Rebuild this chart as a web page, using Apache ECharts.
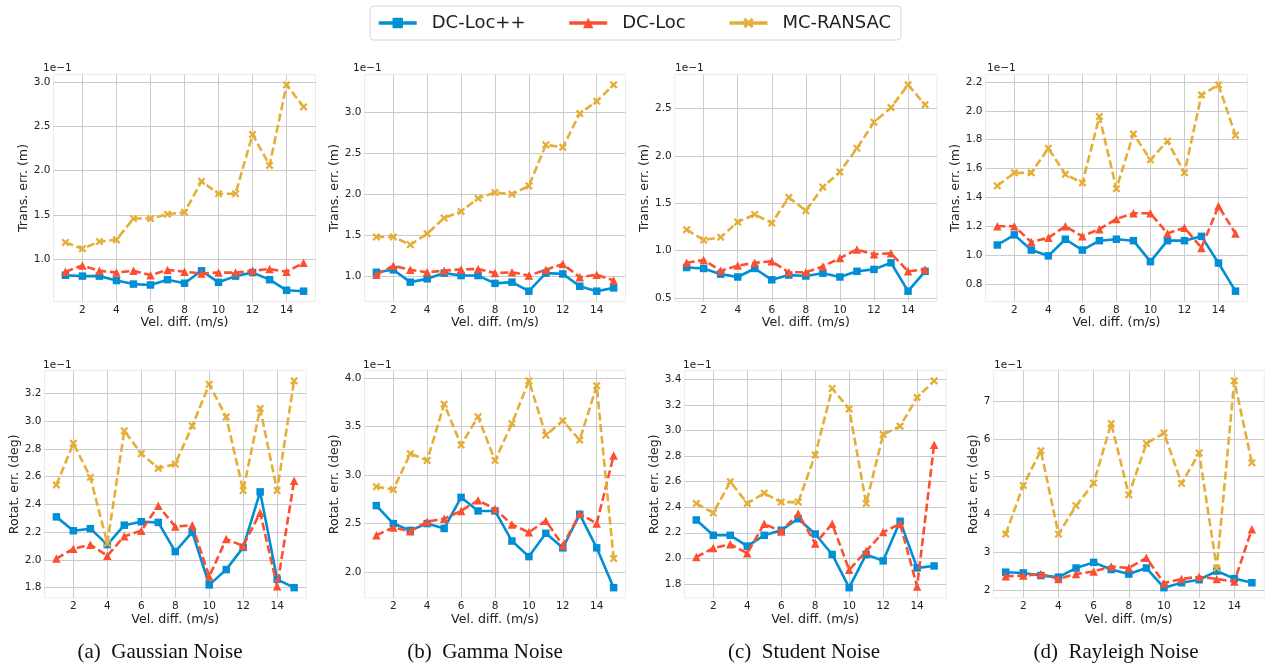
<!DOCTYPE html>
<html>
<head>
<meta charset="utf-8">
<script src="https://cdn.jsdelivr.net/npm/echarts@6/dist/echarts.min.js"></script>
<style>
  html, body { margin: 0; padding: 0; background: #fff; }
  #chart { width: 1266px; height: 664px; }
</style>
</head>
<body>
<div id="chart"></div>
<script>
// x values shared by every panel
const velDiff = [1, 2, 3, 4, 5, 6, 7, 8, 9, 10, 11, 12, 13, 14, 15]
const xTicks = [2, 4, 6, 8, 10, 12, 14]
const seriesNames = ['DC-Loc++', 'DC-Loc', 'MC-RANSAC']

// translation error, x1e-1 m
const transGaussPP = [0.82, 0.81, 0.81, 0.76, 0.72, 0.71, 0.77, 0.73, 0.87, 0.74, 0.81, 0.85, 0.77, 0.65, 0.64]
const transGaussDC = [0.86, 0.93, 0.87, 0.85, 0.87, 0.82, 0.88, 0.86, 0.84, 0.85, 0.85, 0.87, 0.89, 0.86, 0.96]
const transGaussMC = [1.19, 1.12, 1.20, 1.22, 1.46, 1.46, 1.51, 1.53, 1.88, 1.74, 1.74, 2.41, 2.06, 2.97, 2.72]
const transGaussTicks = [1.0, 1.5, 2.0, 2.5, 3.0]

const transGammaPP = [1.05, 1.08, 0.93, 0.97, 1.04, 1.01, 1.01, 0.915, 0.93, 0.82, 1.04, 1.03, 0.88, 0.82, 0.86]
const transGammaDC = [1.02, 1.13, 1.08, 1.05, 1.07, 1.085, 1.09, 1.04, 1.05, 1.01, 1.08, 1.15, 0.99, 1.02, 0.95]
const transGammaMC = [1.48, 1.48, 1.385, 1.52, 1.71, 1.79, 1.95, 2.02, 2.00, 2.10, 2.60, 2.57, 2.98, 3.13, 3.33]
const transGammaTicks = [1.0, 1.5, 2.0, 2.5, 3.0]

const transStudentPP = [0.82, 0.81, 0.75, 0.72, 0.81, 0.69, 0.74, 0.73, 0.76, 0.72, 0.78, 0.80, 0.87, 0.57, 0.78]
const transStudentDC = [0.87, 0.90, 0.785, 0.84, 0.87, 0.885, 0.77, 0.77, 0.83, 0.92, 1.01, 0.96, 0.97, 0.78, 0.80]
const transStudentMC = [1.22, 1.11, 1.14, 1.30, 1.38, 1.29, 1.56, 1.42, 1.67, 1.83, 2.08, 2.355, 2.51, 2.75, 2.54]
const transStudentTicks = [0.5, 1.0, 1.5, 2.0, 2.5]

const transRayleighPP = [1.07, 1.14, 1.035, 0.995, 1.11, 1.035, 1.10, 1.11, 1.10, 0.955, 1.10, 1.10, 1.13, 0.945, 0.75]
const transRayleighDC = [1.20, 1.20, 1.09, 1.12, 1.20, 1.13, 1.18, 1.25, 1.29, 1.29, 1.15, 1.19, 1.05, 1.34, 1.15]
const transRayleighMC = [1.48, 1.57, 1.57, 1.74, 1.56, 1.50, 1.96, 1.46, 1.84, 1.66, 1.79, 1.57, 2.11, 2.18, 1.83]
const transRayleighTicks = [0.8, 1.0, 1.2, 1.4, 1.6, 1.8, 2.0, 2.2]

// rotation error, x1e-1 deg
const rotGaussPP = [2.31, 2.21, 2.225, 2.11, 2.25, 2.275, 2.27, 2.06, 2.20, 1.82, 1.93, 2.09, 2.49, 1.86, 1.80]
const rotGaussDC = [2.01, 2.08, 2.11, 2.03, 2.17, 2.21, 2.39, 2.24, 2.25, 1.88, 2.15, 2.10, 2.34, 1.81, 2.57]
const rotGaussMC = [2.54, 2.84, 2.595, 2.12, 2.93, 2.765, 2.66, 2.69, 2.965, 3.265, 3.03, 2.50, 3.09, 2.50, 3.29]
const rotGaussTicks = [1.8, 2.0, 2.2, 2.4, 2.6, 2.8, 3.0, 3.2]

const rotGammaPP = [2.685, 2.50, 2.43, 2.50, 2.45, 2.77, 2.63, 2.63, 2.32, 2.16, 2.40, 2.25, 2.595, 2.25, 1.84]
const rotGammaDC = [2.38, 2.46, 2.42, 2.52, 2.55, 2.63, 2.74, 2.65, 2.49, 2.41, 2.53, 2.275, 2.60, 2.50, 3.20]
const rotGammaMC = [2.88, 2.85, 3.22, 3.15, 3.73, 3.31, 3.60, 3.15, 3.53, 3.97, 3.41, 3.56, 3.36, 3.92, 2.14]
const rotGammaTicks = [2.0, 2.5, 3.0, 3.5, 4.0]

const rotStudentPP = [2.30, 2.18, 2.18, 2.095, 2.18, 2.22, 2.31, 2.19, 2.03, 1.77, 2.03, 1.98, 2.29, 1.925, 1.94]
const rotStudentDC = [2.01, 2.08, 2.11, 2.04, 2.27, 2.21, 2.35, 2.115, 2.27, 1.91, 2.055, 2.205, 2.27, 1.78, 2.89]
const rotStudentMC = [2.43, 2.355, 2.60, 2.43, 2.51, 2.44, 2.44, 2.81, 3.33, 3.17, 2.43, 2.97, 3.035, 3.26, 3.39]
const rotStudentTicks = [1.8, 2.0, 2.2, 2.4, 2.6, 2.8, 3.0, 3.2, 3.4]

const rotRayleighPP = [2.47, 2.45, 2.38, 2.34, 2.58, 2.73, 2.54, 2.42, 2.58, 2.06, 2.19, 2.27, 2.50, 2.30, 2.19]
const rotRayleighDC = [2.36, 2.38, 2.42, 2.29, 2.42, 2.49, 2.62, 2.58, 2.85, 2.18, 2.29, 2.35, 2.29, 2.22, 3.61]
const rotRayleighMC = [3.48, 4.77, 5.69, 3.48, 4.23, 4.83, 6.41, 4.52, 5.88, 6.16, 4.82, 5.63, 2.58, 7.54, 5.37]
const rotRayleighTicks = [2, 3, 4, 5, 6, 7]

const captions = ['(a)  Gaussian Noise', '(b)  Gamma Noise', '(c)  Student Noise', '(d)  Rayleigh Noise']

// 图表样式
const colors = ['#008fd5', '#fc4f30', '#e5ae38']
const symbols = ['rect', 'triangle', 'path://M2,0L5,3L8,0L10,2L7,5L10,8L8,10L5,7L2,10L0,8L3,5L0,2Z']
const symbolSizes = [7.5, 8.5, 8]
const lineTypes = ['solid', [8, 3.6], [8, 3.6]]
const font = 'DejaVu Sans'
const textColor = '#222'

const panels = [
  { data: [transGaussPP, transGaussDC, transGaussMC], ticks: transGaussTicks, yName: 'Trans. err. (m)', grid: [53.5, 74.5, 262, 227], gap: 19.5, off: [43, 68] },
  { data: [transGammaPP, transGammaDC, transGammaMC], ticks: transGammaTicks, yName: 'Trans. err. (m)', grid: [364.5, 74.5, 261, 227], gap: 19, off: [353, 68] },
  { data: [transStudentPP, transStudentDC, transStudentMC], ticks: transStudentTicks, yName: 'Trans. err. (m)', grid: [674.7, 74.5, 262.3, 227], gap: 19, off: [675, 68] },
  { data: [transRayleighPP, transRayleighDC, transRayleighMC], ticks: transRayleighTicks, yName: 'Trans. err. (m)', grid: [985.4, 74.5, 262, 227], gap: 22.6, off: [987, 68] },
  { data: [rotGaussPP, rotGaussDC, rotGaussMC], ticks: rotGaussTicks, yName: 'Rotat. err. (deg)', grid: [44.5, 370.5, 261.5, 227.5], gap: 19, off: [43, 365] },
  { data: [rotGammaPP, rotGammaDC, rotGammaMC], ticks: rotGammaTicks, yName: 'Rotat. err. (deg)', grid: [364.5, 370.5, 261, 227.5], gap: 19, off: [363, 365] },
  { data: [rotStudentPP, rotStudentDC, rotStudentMC], ticks: rotStudentTicks, yName: 'Rotat. err. (deg)', grid: [684.4, 370.5, 261.6, 227.5], gap: 19, off: [683, 365] },
  { data: [rotRayleighPP, rotRayleighDC, rotRayleighMC], ticks: rotRayleighTicks, yName: 'Rotat. err. (deg)', grid: [993.4, 370.5, 270.8, 227.5], gap: 9, off: [994, 365], integer: true }
]

// matplotlib 默认 5% 边距
const padMin = v => v.min - 0.05 * (v.max - v.min)
const padMax = v => v.max + 0.05 * (v.max - v.min)

const grids = []
const xAxes = []
const yAxes = []
const series = []
const graphics = []

panels.forEach((p, i) => {
  grids.push({
    left: p.grid[0], top: p.grid[1], width: p.grid[2], height: p.grid[3],
    show: true, borderColor: '#ebebeb', borderWidth: 1, backgroundColor: '#fff'
  })
  xAxes.push({
    type: 'value', gridIndex: i, min: padMin, max: padMax,
    name: 'Vel. diff. (m/s)', nameLocation: 'middle', nameGap: 11,
    nameTextStyle: { fontFamily: font, fontSize: 12.6, color: textColor, verticalAlign: 'top' },
    axisLine: { show: false },
    axisTick: { show: false, customValues: xTicks },
    axisLabel: { customValues: xTicks, margin: 3, fontFamily: font, fontSize: 10.5, color: textColor },
    splitLine: { show: true, lineStyle: { color: '#cbcbcb', width: 1 } }
  })
  yAxes.push({
    type: 'value', gridIndex: i, min: padMin, max: padMax,
    name: p.yName, nameLocation: 'middle', nameGap: p.gap,
    nameTextStyle: { fontFamily: font, fontSize: 12.6, color: textColor },
    axisLine: { show: false },
    axisTick: { show: false, customValues: p.ticks },
    axisLabel: {
      customValues: p.ticks, margin: 3, fontFamily: font, fontSize: 10.5, color: textColor,
      formatter: v => p.integer ? String(Math.round(v)) : v.toFixed(1)
    },
    splitLine: { show: true, lineStyle: { color: '#cbcbcb', width: 1 } }
  })
  p.data.forEach((arr, k) => {
    series.push({
      type: 'line', name: seriesNames[k], xAxisIndex: i, yAxisIndex: i,
      data: velDiff.map((x, j) => [x, arr[j]]),
      symbol: symbols[k], symbolSize: symbolSizes[k], showSymbol: true,
      itemStyle: { color: colors[k] },
      lineStyle: { color: colors[k], width: 2.6, type: lineTypes[k] },
      emphasis: { disabled: true },
      z: 2 + k
    })
  })
  graphics.push({
    type: 'text', left: p.off[0], top: p.off[1] - 5,
    style: { text: '1e\u22121', fontFamily: font, fontSize: 10.5, fill: textColor }
  })
})

const captionX = [160, 485, 804, 1116]
captions.forEach((c, i) => {
  graphics.push({
    type: 'text', x: captionX[i], y: 652,
    style: { text: c, fontFamily: 'Liberation Serif', fontSize: 21, fill: '#111', align: 'center', verticalAlign: 'middle' }
  })
})

const chart = echarts.init(document.getElementById('chart'), null, { renderer: 'canvas' })
chart.setOption({
  animation: false,
  backgroundColor: '#fff',
  legend: {
    data: seriesNames, left: 370, top: 6,
    itemWidth: 38, itemHeight: 13, itemGap: 42,
    padding: [8, 10, 8, 7],
    borderColor: '#d6d6d6', borderWidth: 1, borderRadius: 4,
    lineStyle: { type: 'solid', width: 3.5 },
    textStyle: { fontFamily: font, fontSize: 18, color: textColor, padding: [0, 0, 0, 10] }
  },
  grid: grids,
  xAxis: xAxes,
  yAxis: yAxes,
  series: series,
  graphic: graphics
})
</script>
</body>
</html>
